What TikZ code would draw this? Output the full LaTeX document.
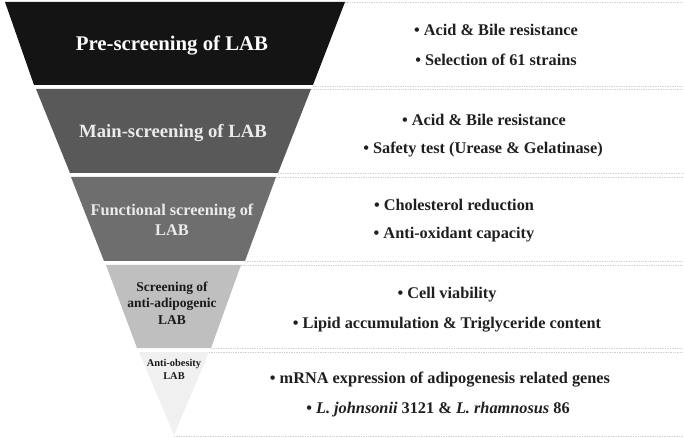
\documentclass[tikz,border=0pt]{standalone}
\usepackage{fontspec}
\setmainfont{Liberation Serif}
\begin{document}
\begin{tikzpicture}[x=1pt,y=-1pt,
  sep/.style={draw=black!18,line width=0.7pt,densely dotted},
  lefttxt/.style={font=\bfseries,align=center,inner sep=0pt},
  righttxt/.style={font=\bfseries,text=black!88,anchor=center,inner sep=0pt}]
\useasboundingbox (0,0) rectangle (685,438);
% funnel bands
\fill[black!92] (5,2) -- (345,2) -- (313,85) -- (34,85) -- cycle;
\fill[black!65] (36,89) -- (311,89) -- (278,173) -- (70,173) -- cycle;
\fill[black!57] (71,177) -- (276,177) -- (245,261) -- (104,261) -- cycle;
\fill[black!25] (106,265) -- (241,265) -- (211,348) -- (137,348) -- cycle;
\fill[black!6] (139,352) -- (209,352) -- (174,435) -- cycle;
% separators
\coordinate (t1a) at (345,2);   \coordinate (t1b) at (683,2);
\coordinate (b1a) at (313,86);  \coordinate (b1b) at (683,86);
\coordinate (t2a) at (311,89);  \coordinate (t2b) at (683,89);
\coordinate (b2a) at (278,173); \coordinate (b2b) at (683,173);
\coordinate (t3a) at (276,177); \coordinate (t3b) at (683,177);
\coordinate (b3a) at (245,261); \coordinate (b3b) at (683,261);
\coordinate (t4a) at (241,265); \coordinate (t4b) at (683,265);
\coordinate (b4a) at (211,348); \coordinate (b4b) at (683,348);
\coordinate (t5a) at (209,352); \coordinate (t5b) at (683,352);
\coordinate (b5a) at (174,436); \coordinate (b5b) at (683,436);
\foreach \p in {t1,b1,t2,b2,t3,b3,t4,b4,t5,b5} \draw[sep] (\p a) -- (\p b);
% left labels
\node[lefttxt,text=white,font=\bfseries\fontsize{20.8}{24}\selectfont] (l1) at (172,45) {Pre-screening of LAB};
\node[lefttxt,text=black!8,font=\bfseries\fontsize{18.7}{22}\selectfont] (l2) at (173,133) {Main-screening of LAB};
\node[lefttxt,text=black!8,font=\bfseries\fontsize{16.3}{20}\selectfont] (l3) at (172,220) {Functional screening of\\LAB};
\node[lefttxt,text=black!90,font=\bfseries\fontsize{13.5}{16.5}\selectfont] (l4) at (172,303) {Screening of\\anti-adipogenic\\LAB};
\node[lefttxt,text=black!90,font=\bfseries\fontsize{10.4}{13}\selectfont] (l5) at (174,369.5) {Anti-obesity\\LAB};
% right texts
\begin{scope}[every node/.style={righttxt,font=\bfseries\fontsize{16.3}{18}\selectfont}]
\node (r1a) at (496,30) {• Acid \& Bile resistance};
\node (r1b) at (496,60) {• Selection of 61 strains};
\node (r2a) at (484,120) {• Acid \& Bile resistance};
\node (r2b) at (483,150) {• Safety test (Urease \& Gelatinase)};
\node (r3a) at (454,205) {• Cholesterol reduction};
\node (r3b) at (454,235) {• Anti-oxidant capacity};
\node (r4a) at (447,295) {• Cell viability};
\node (r4b) at (447,325) {• Lipid accumulation \& Triglyceride content};
\node (r5a) at (440,380) {• mRNA expression of adipogenesis related genes};
\node (r5b) at (438,410) {• \textit{L. johnsonii} 3121 \& \textit{L. rhamnosus} 86};
\end{scope}
\end{tikzpicture}
\end{document}
